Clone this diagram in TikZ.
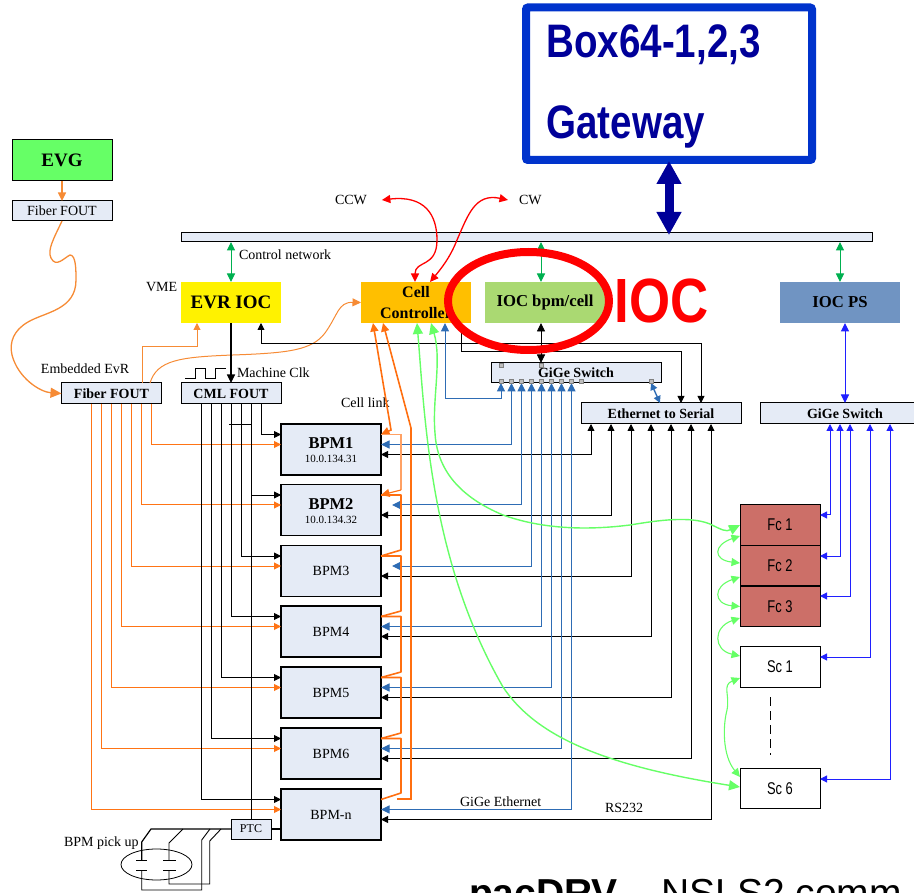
\documentclass[tikz,border=0pt]{standalone}
\usepackage{fontspec}
\setmainfont{Liberation Serif}
\newfontfamily\arialf{Liberation Sans}
\usetikzlibrary{arrows.meta,shapes.geometric,calc}
\newcommand{\fsz}[1]{\fontsize{#1}{#1}\selectfont}
\definecolor{boxfill}{HTML}{E5EBF6}
\definecolor{orng}{HTML}{FF7415}
\definecolor{orngthin}{HTML}{F68B35}
\definecolor{cellorng}{HTML}{FF6F10}
\definecolor{lgreen}{HTML}{66FF66}
\definecolor{ctlgreen}{HTML}{00B050}
\definecolor{bluea}{HTML}{2E6CB4}
\definecolor{blueb}{HTML}{2020FF}
\definecolor{navy}{HTML}{000099}
\definecolor{gwblue}{HTML}{0033CC}
\definecolor{fcred}{HTML}{CC6F68}
\definecolor{ioclime}{HTML}{AAD972}
\definecolor{iocps}{HTML}{7094C2}
\definecolor{cellfill}{HTML}{FFBF00}
\definecolor{portgrey}{HTML}{BDBDBD}
\tikzset{
  every node/.style={inner sep=0pt,outer sep=0pt},
  lab/.style={font=\fsz{14}},
  fbox/.style={draw=black,line width=1pt,fill=boxfill,font=\fsz{14}},
  fboxb/.style={fbox,font=\fsz{14}\bfseries},
  bpmbox/.style={draw=black,line width=1.6pt,fill=boxfill,minimum width=100pt,font=\fsz{14}},
  solid box/.style={minimum width=#1,minimum height=41pt},
  fcbox/.style={draw=black,line width=1pt,fill=fcred,minimum width=80pt,minimum height=40.5pt,font=\arialf\fsz{17}},
  scbox/.style={draw=black,line width=1pt,fill=white,minimum width=80pt,minimum height=40.5pt,font=\arialf\fsz{17}},
  port/.style={draw=gray,line width=.4pt,fill=portgrey,minimum width=4pt,minimum height=3.6pt},
  tipS/.tip={Triangle[width=7pt,length=7pt]},
  tipM/.tip={Triangle[width=8pt,length=8.5pt]},
  tipL/.tip={Triangle[width=10pt,length=11pt]},
  kline/.style={draw=black,line width=.9pt},
  oline/.style={draw=orng,line width=1pt},
  othin/.style={draw=orngthin,line width=1pt},
  cline/.style={draw=cellorng,line width=1.6pt},
  bline/.style={draw=bluea,line width=1pt},
  bbline/.style={draw=blueb,line width=1pt},
  gline/.style={draw=lgreen,line width=1.4pt},
  ctl/.style={draw=ctlgreen,line width=1pt,{tipM}-{tipM}},
}
\begin{document}
\begin{tikzpicture}[x=1pt,y=-1pt]
\useasboundingbox (0,0) rectangle (914,893);
\clip (0,0) rectangle (914,893);
% ---- top gateway
\node[draw=gwblue,line width=8pt,rounded corners=2pt,minimum width=286pt,minimum height=152.5pt] (gw) at (669,83.75) {};
\node[anchor=base west,text=navy,font=\arialf\bfseries\fsz{47}] (gwa) at (546.5,58) {\scalebox{.82}[1]{Box64-1,2,3}};
\node[anchor=base west,text=navy,font=\arialf\bfseries\fsz{47}] (gwb) at (546.5,139) {\scalebox{.82}[1]{Gateway}};
\node[draw=black,line width=1pt,fill=boxfill,minimum width=691pt,minimum height=9pt] (bar) at (526.5,237.5) {};
% ---- timing
\node[draw=black,line width=1pt,fill=lgreen,minimum width=100pt,minimum height=41pt,font=\bfseries\fsz{19}] (evg) at (62,160.5) {EVG};
\node[fbox,minimum width=100pt,minimum height=20pt] (ffa) at (62,211) {Fiber FOUT};
\node[fboxb,minimum width=100pt,minimum height=21pt] (fib) at (111.5,393.5) {Fiber FOUT};
\node[fboxb,minimum width=100pt,minimum height=21pt] (cml) at (231,393.5) {CML FOUT};
% ---- IOCs
\node[fill=yellow,solid box=100pt,font=\bfseries\fsz{19}] (evr) at (231,302.5) {EVR IOC};
\node[fill=cellfill,solid box=110pt,font=\bfseries\fsz{16},align=center] (cell) at (416,302.5) {Cell\\[4.5pt]Controller};
\node[fill=ioclime,solid box=121pt,font=\bfseries\fsz{16.7}] (ioc) at (545,302.5) {IOC bpm/cell};
\node[fill=iocps,solid box=120pt,font=\bfseries\fsz{16.7}] (ps) at (840,302.5) {IOC PS};
% ---- switches
\node[fboxb,minimum width=170pt,minimum height=20pt] (sw) at (576,373) {GiGe Switch};
\node[fboxb,minimum width=160pt,minimum height=21pt] (ets) at (661,413.5) {Ethernet to Serial};
\node[fboxb,minimum width=170pt,minimum height=21pt] (swr) at (845,413.5) {GiGe Switch};
% ---- BPM boxes
\foreach \i/\cy/\t in {1/449.5/,2/510/,3/571/BPM3,4/631.5/BPM4,5/692.5/BPM5,6/753.5/BPM6,7/814.5/BPM-n}{
  \node[bpmbox,minimum height=51pt] (b\i) at (331,\cy) {\t};
  \coordinate (bwk\i) at ([yshift=15pt]b\i.west);
  \coordinate (bwo\i) at ([yshift=5pt]b\i.west);
  \coordinate (beo\i) at ([yshift=15pt]b\i.east);
  \coordinate (beb\i) at ([yshift=5pt]b\i.east);
  \coordinate (bek\i) at ([yshift=-5pt]b\i.east);
}
\node[anchor=base,font=\bfseries\fsz{16.5}] (t1a) at (331,449) {BPM1};
\node[anchor=base,font=\fsz{11}] (t1b) at (331,463) {10.0.134.31};
\node[anchor=base,font=\bfseries\fsz{16.5}] (t2a) at (331,510) {BPM2};
\node[anchor=base,font=\fsz{11}] (t2b) at (331,524) {10.0.134.32};
% ---- Fc / Sc
\node[fcbox] (fc1) at (780,525) {\scalebox{.76}[1]{Fc 1}};
\node[fcbox] (fc2) at (780,565.5) {\scalebox{.76}[1]{Fc 2}};
\node[fcbox] (fc3) at (780,606.5) {\scalebox{.76}[1]{Fc 3}};
\node[scbox] (sc1) at (780,667) {\scalebox{.76}[1]{Sc 1}};
\node[scbox] (sc6) at (780,788.5) {\scalebox{.76}[1]{Sc 6}};
% ---- labels
\node[lab,anchor=west] (lctl) at (239,255) {Control network};
\node[lab,anchor=west] (lvme) at (146,287) {VME};
\node[lab,anchor=west] (lccw) at (335,200) {CCW};
\node[lab,anchor=west] (lcw) at (519,200) {CW};
\node[lab,anchor=west] (lemb) at (41,369) {Embedded EvR};
\node[lab,anchor=west] (lclk) at (237,373) {Machine Clk};
\node[lab,anchor=west] (llink) at (341,403) {Cell link};
\node[lab,anchor=west] (lgig) at (460,802) {GiGe Ethernet};
\node[lab,anchor=west] (lrs) at (605,808) {RS232};
\node[lab,anchor=west] (lpick) at (64,843) {BPM pick up};
\node[anchor=base west,font=\arialf\fsz{39}] (ltitle) at (469,906.5) {\textbf{pacDRV} – NSLS2 comm};
% ---- PTC & pick-up
\node[draw=black,line width=1pt,fill=boxfill,minimum width=40pt,minimum height=20pt,font=\fsz{12}] (ptc) at (251,829) {PTC};
\node[draw=black,line width=.8pt,ellipse,minimum width=71pt,minimum height=31pt] (pu) at (156.5,864.5) {};
\draw[kline,line width=1.2pt] (ptc.west) -- (151,0 |- ptc.west) -- (141.7,842) -- (141.7,860);
\draw[kline] (183,0 |- ptc.west) -- (169,843) -- (169,860);
\draw[kline] (210,0 |- ptc.west) -- (201.7,840) -- (201.7,890) -- (141.7,890) -- (141.7,870);
\draw[kline] (221,0 |- ptc.west) -- (209.7,841) -- (209.7,884) -- (169,884) -- (169,870);
\draw[kline] (136,860) -- (147,860) (163,860) -- (176,860) (136,870) -- (147,870) (163,870) -- (176,870);
\draw[kline,line width=1.2pt] (ptc.east) -- (ptc.east -| b7.west);
% ---- top timing connections
\draw[oline,draw=orngthin,line width=1.4pt,-{tipM}] (evg.south) -- (ffa.north);
\draw[oline,draw=orngthin,line width=1.3pt,-{tipL}] (ffa.south) .. controls (54,238) and (47,250) .. (51,258) .. controls (56,268) and (64,258) .. (70,255) .. controls (76,255) and (76,270) .. (76,280) .. controls (76,310) and (45,312) .. (28,322) .. controls (14,330) and (9,342) .. (12,355) .. controls (18,378) and (40,392) .. (fib.west);
\draw[othin,-{tipS}] (142,0 |- fib.north) -- (142,347) -| (197,0 |- evr.south);
\draw[othin,-{tipM}] (150,0 |- fib.north) .. controls (157,360) and (180,357) .. (233,355) .. controls (290,353) and (312,350) .. (325,333) .. controls (338,315) and (338,302) .. (cell.west);
\draw[kline,line width=1.2pt,-{tipM}] (evr.south) -- (cml.north);
\draw[kline] (185,378) -- (195,378) -- (195,368) -- (205,368) -- (205,378) -- (215,378) -- (215,368) -- (226,368);
% ---- control network
\draw[ctl] (bar.south -| evr.north) -- (evr.north);
\draw[ctl] (541,0 |- bar.south) -- (541,0 |- ioc.north);
\draw[ctl] (bar.south -| ps.north) -- (ps.north);
% ---- red ring links
\draw[draw=red,line width=1.3pt,{tipM}-{tipM}] ([xshift=15pt]lccw.east) .. controls (425,195) and (437,215) .. (437,240) .. controls (437,268) and (415,260) .. (415,0 |- cell.north);
\draw[draw=red,line width=1.3pt,{tipM}-{tipM}] ([xshift=-11pt]lcw.west) .. controls (475,193) and (468,215) .. (457,240) .. controls (450,258) and (440,270) .. (430,0 |- cell.north);
% ---- black control lines
\draw[kline,{tipS}-{tipS}] (261,0 |- evr.south) -- (261,343) -| (701,0 |- ets.north);
\draw[kline,-{tipS}] (461,0 |- cell.south) -- (461,351) -| (681,0 |- ets.north);
\draw[kline,{tipM}-{tipM}] (541,0 |- ioc.south) -- (541,0 |- sw.north);
% ---- BPM links
\foreach \i/\xo/\xc/\xg/\xs/\tipb in {1/151/261/511/591/0,2/141/251/521/611/11,3/131/241/531/631/11,4/121/231/541/651/0,5/111/221/551/671/0,6/101/211/561/691/0,7/91/201/571/711/0}{
  \draw[oline,-{tipS}] (\xo.5,0 |- fib.south) |- (bwo\i);
  \draw[kline,-{tipS}] (\xc,0 |- cml.south) |- (bwk\i);
  \draw[bline,{tipM}-{tipM}] ([xshift=\tipb pt]beb\i) -| (\xg.5,0 |- sw.south);
  \draw[kline,{tipS}-{tipS}] (bek\i) -| (\xs,0 |- ets.south);
}
\coordinate (tick) at (229,424);
\draw[kline] (tick) -- (251,424);
\draw[kline] (251,0 |- cml.south) -- (251,0 |- ptc.north);
% ---- cell link
\draw[cline,{tipM}-{tipM}] (373,0 |- cell.south) -- (391,430) -- (beo1);
\draw[draw=cellorng!65,line width=1.2pt] (beo1) -- (401,0 |- beo1) -- (401,490);
\draw[draw=cellorng,line width=1.2pt,-{tipM}] (401,490) -- (beo2);
\foreach \i/\j/\yy in {2/3/550,3/4/611,4/5/672,5/6/733,6/7/793}{
  \draw[cline,line join=round] (beo\i) -- (401,0 |- beo\i) -- (401,\yy) -- (beo\j);
}
\draw[cline,{tipM}-] (383,0 |- cell.south) -- (411,428) -- (411,799) -- (397,799);
% ---- blue to switch
\draw[bline,{tipM}-{tipM}] (445,0 |- cell.south) -- (445,399) -| (501,0 |- sw.south);
\draw[bline,line width=1.4pt,{tipS}-{tipS}] (651,0 |- sw.south) -- (660,0 |- ets.north);
% ---- right-hand switch
\draw[bbline,{tipM}-{tipM}] (ps.south -| swr.north) -- (swr.north);
\foreach \n/\x/\yy in {fc1/830/10,fc2/840/9.5,fc3/850/10.5,sc1/870/10,sc6/890/9.5}{
  \draw[bbline,{tipS}-{tipS}] ([yshift=\yy pt]\n.east) -| (\x,0 |- swr.south);
}
% ---- green fibres
\draw[gline,{tipL}-{tipL}] (417,0 |- cell.south) .. controls (425,420) and (430,560) .. (503,687) .. controls (535,735) and (600,765) .. ([yshift=1.5pt]sc6.west);
\draw[gline,{tipL}-{tipL}] (431,0 |- cell.south) .. controls (442,360) and (432,400) .. (435,433) .. controls (437,470) and (460,497) .. (503,515) .. controls (545,530) and (590,530) .. (630,525) .. controls (660,520) and (690,516) .. (710,524) .. controls (722,530) and (726,532) .. (fc1.west);
\draw[gline,line width=1.1pt,{tipM}-{tipM}] ([yshift=-11pt]fc1.west) .. controls (713,545) and (713,560) .. ([yshift=2.5pt]fc2.west);
\draw[gline,line width=1.1pt,{tipM}-{tipM}] ([yshift=-11.5pt]fc2.west) .. controls (713,586) and (713,604) .. (fc3.west);
\draw[gline,line width=1.1pt,{tipM}-{tipM}] ([yshift=-11.5pt]fc3.west) .. controls (713,627) and (713,650) .. ([yshift=11pt]sc1.west);
\draw[gline,line width=1.1pt,{tipM}-{tipM}] ([yshift=-11pt]sc1.west) .. controls (722,685) and (730,695) .. (727,710) .. controls (723,725) and (722,755) .. ([yshift=11.5pt]sc6.west);
\draw[kline,dash pattern=on 9pt off 5pt] (770,697) -- (770,755);
% ---- switch ports
\foreach \x in {501,511,521,531,541,551,561,571,581,651}{
  \node[port] (pb\x) at (\x,381) {};
}
\node[port] (pt1) at (501,365) {};
\node[port] (pt2) at (541,365) {};
% ---- highlight
\coordinate (ringc) at (528.5,301);
\draw[draw=red,line width=8pt] (ringc) ellipse [x radius=80.5,y radius=49];
\node[anchor=base west,text=red,font=\arialf\bfseries\fsz{62.5}] (liocc) at (614.5,323) {\scalebox{.845}[1]{IOC}};
% ---- big arrow
\draw[draw=navy,line width=9pt,{Triangle[width=23.5pt,length=23pt]}-{Triangle[width=23.5pt,length=23pt]}] ([yshift=-1pt]gw.south) -- ([yshift=-2pt]gw.south |- bar.north);
\end{tikzpicture}
\end{document}
